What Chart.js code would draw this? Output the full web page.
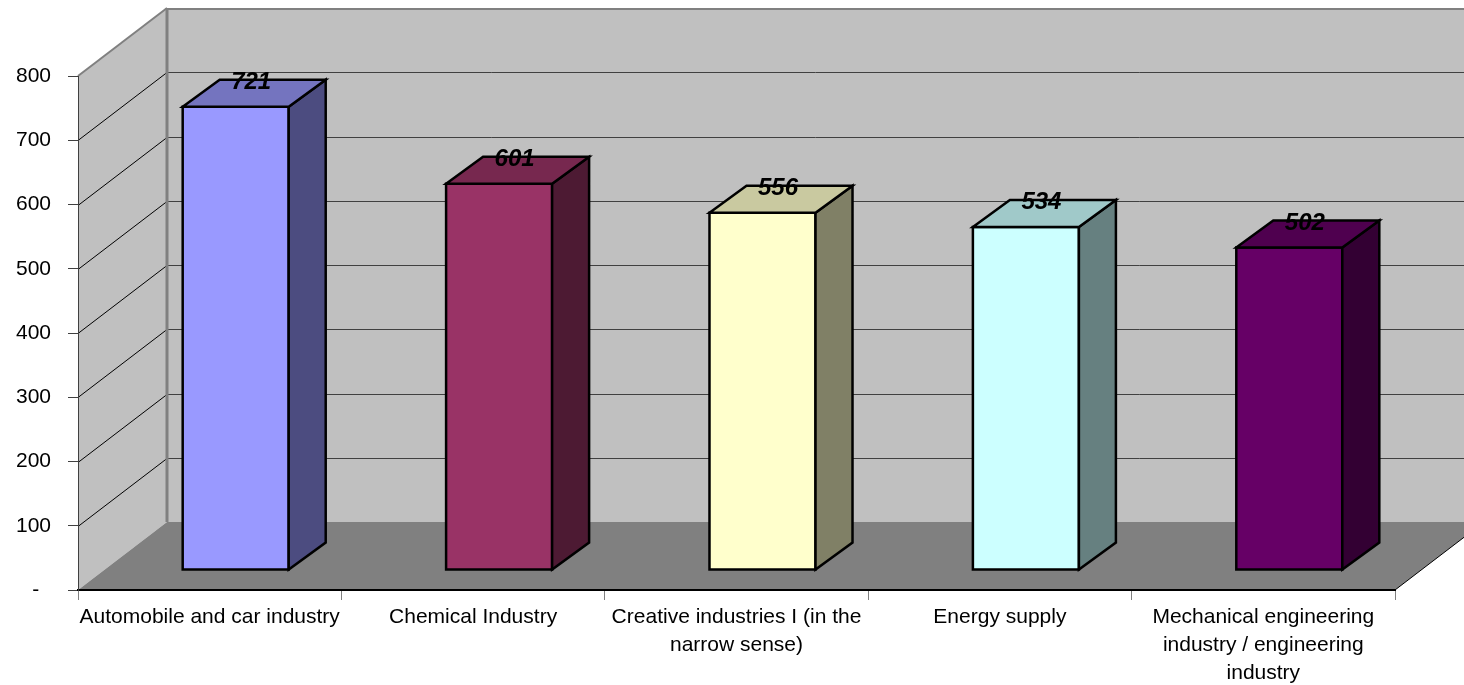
<!DOCTYPE html>
<html>
<head>
<meta charset="utf-8">
<script src="https://cdn.jsdelivr.net/npm/chart.js@4.4.0/dist/chart.umd.min.js"></script>
<style>
html, body { margin: 0; padding: 0; background: #fff; }
canvas { display: block; }
</style>
</head>
<body>
<canvas id="chart" width="1464" height="685"></canvas>
<script>
var categories = [
    'Automobile and car industry',
    'Chemical Industry',
    ['Creative industries I (in the', 'narrow sense)'],
    'Energy supply',
    ['Mechanical engineering', 'industry / engineering', 'industry']
];
var values = [721, 601, 556, 534, 502];

var frontColors = ['#9999ff', '#993366', '#ffffcc', '#ccffff', '#660066'];
var sideColors = ['#4c4c80', '#4d1a33', '#808066', '#668080', '#330033'];
var topColors = ['#7474bf', '#77284f', '#c9c9a0', '#a0c9c9', '#4f004f'];

// 3d geometry
var WALL_DX = 89, WALL_DY = -68;
var BAR_SHIFT_X = 26, BAR_SHIFT_Y = -20;
var BAR_DX = 37, BAR_DY = -27;

Chart.defaults.font.family = '"Liberation Sans", Arial, sans-serif';
Chart.defaults.color = '#000';

function polygon(ctx, pts, fill, stroke, lw) {
    ctx.beginPath();
    ctx.moveTo(pts[0][0], pts[0][1]);
    for (var i = 1; i < pts.length; i++) ctx.lineTo(pts[i][0], pts[i][1]);
    ctx.closePath();
    if (fill) { ctx.fillStyle = fill; ctx.fill(); }
    if (stroke) { ctx.strokeStyle = stroke; ctx.lineWidth = lw || 1; ctx.stroke(); }
}

function line(ctx, x1, y1, x2, y2, color, lw) {
    ctx.beginPath();
    ctx.moveTo(x1, y1);
    ctx.lineTo(x2, y2);
    ctx.strokeStyle = color;
    ctx.lineWidth = lw || 1;
    ctx.stroke();
}

var wallsPlugin = {
    id: 'walls',
    beforeDraw: function (chart) {
        var ctx = chart.ctx, a = chart.chartArea, ys = chart.scales.y;
        var l = a.left, r = a.right, t = a.top, b = a.bottom;
        ctx.save();
        // back wall
        ctx.fillStyle = '#c0c0c0';
        ctx.fillRect(l + WALL_DX, t + WALL_DY, chart.width, b - t);
        // side wall
        polygon(ctx, [[l, b], [l, t], [l + WALL_DX, t + WALL_DY], [l + WALL_DX, b + WALL_DY]], '#c0c0c0');
        // floor
        polygon(ctx, [[l, b], [r, b], [r + WALL_DX, b + WALL_DY], [l + WALL_DX, b + WALL_DY]], '#808080');

        ys.ticks.forEach(function (tick) {
            if (tick.value === 0 || tick.value === ys.max) return;
            var py = Math.round(ys.getPixelForValue(tick.value)) + 0.5;
            line(ctx, l + WALL_DX, py + WALL_DY, chart.width, py + WALL_DY, '#404040', 1);
            line(ctx, l, py, l + WALL_DX, py + WALL_DY, '#000', 1);
        });

        // wall edges
        line(ctx, l + WALL_DX, t + WALL_DY + 1, chart.width, t + WALL_DY + 1, '#808080', 2);
        line(ctx, l + WALL_DX, t + WALL_DY, l + WALL_DX, b + WALL_DY, '#808080', 3);
        line(ctx, l, t, l + WALL_DX, t + WALL_DY, '#808080', 2);
        line(ctx, r, b, r + WALL_DX, b + WALL_DY, '#000', 1);
        ctx.restore();
    }
};

var barsPlugin = {
    id: 'bars3d',
    afterDatasetsDraw: function (chart) {
        var ctx = chart.ctx;
        var meta = chart.getDatasetMeta(0);
        ctx.save();
        ctx.lineJoin = 'miter';
        meta.data.forEach(function (bar, i) {
            var p = bar.getProps(['x', 'y', 'base', 'width'], true);
            var x0 = p.x - p.width / 2 + BAR_SHIFT_X, x1 = p.x + p.width / 2 + BAR_SHIFT_X;
            var y0 = p.y + BAR_SHIFT_Y, y1 = p.base + BAR_SHIFT_Y;
            polygon(ctx, [[x0, y0], [x1, y0], [x1, y1], [x0, y1]], frontColors[i], '#000', 2.5);
            polygon(ctx, [[x1, y0], [x1 + BAR_DX, y0 + BAR_DY], [x1 + BAR_DX, y1 + BAR_DY], [x1, y1]], sideColors[i], '#000', 2.5);
            polygon(ctx, [[x0, y0], [x0 + BAR_DX, y0 + BAR_DY], [x1 + BAR_DX, y0 + BAR_DY], [x1, y0]], topColors[i], '#000', 2.5);

            ctx.font = 'italic bold 24px "Liberation Sans", Arial, sans-serif';
            ctx.fillStyle = '#000';
            ctx.textAlign = 'center';
            ctx.textBaseline = 'alphabetic';
            ctx.fillText(String(values[i]), (x0 + x1) / 2 + BAR_DX / 2 - 3, y0 + BAR_DY / 2 - 4);
        });
        ctx.restore();
    }
};

var ctx = document.getElementById('chart').getContext('2d');
var chart = new Chart(ctx, {
    type: 'bar',
    data: {
        labels: categories,
        datasets: [{
            data: values,
            backgroundColor: 'rgba(0,0,0,0)',
            borderWidth: 0,
            categoryPercentage: 1,
            barPercentage: 0.4025
        }]
    },
    options: {
        responsive: false,
        animation: false,
        devicePixelRatio: 1,
        layout: { padding: { top: 76, right: 69, left: 0, bottom: 0 } },
        plugins: {
            legend: { display: false },
            tooltip: { enabled: false }
        },
        scales: {
            x: {
                grid: { offset: true, drawOnChartArea: false, tickLength: 10, color: '#808080' },
                border: { color: '#000', width: 2 },
                ticks: {
                    font: { size: 21, lineHeight: 1.33 },
                    padding: 3,
                    maxRotation: 0,
                    autoSkip: false
                },
                afterFit: function (s) { s.height = 95; }
            },
            y: {
                min: 0,
                max: 800,
                grid: { drawOnChartArea: false, tickLength: 10, color: '#404040' },
                border: { color: '#404040', width: 1 },
                ticks: {
                    stepSize: 100,
                    padding: 17,
                    font: { size: 21 },
                    callback: function (v) { return v === 0 ? '-  ' : v; }
                },
                afterFit: function (s) { s.width = 78; }
            }
        }
    },
    plugins: [wallsPlugin, barsPlugin]
});
</script>
</body>
</html>
